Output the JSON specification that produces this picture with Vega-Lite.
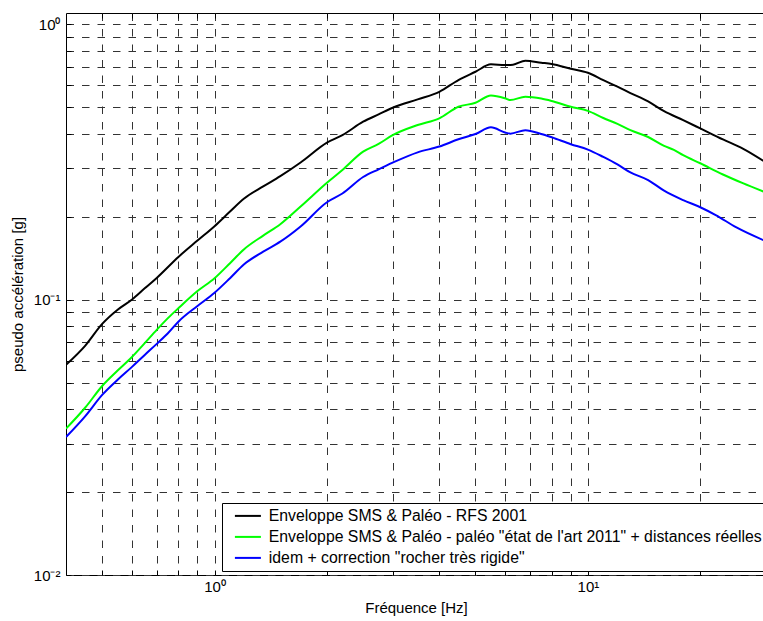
{
  "$schema": "https://vega.github.io/schema/vega-lite/v6.json",
  "width": 700,
  "height": 562,
  "autosize": "none",
  "padding": {"left": 66, "top": 13, "right": 0, "bottom": 46},
  "background": "white",
  "config": {
    "view": {"stroke": "black", "strokeWidth": 1},
    "font": "Liberation Sans",
    "axis": {
      "labelFont": "Liberation Sans",
      "titleFont": "Liberation Sans",
      "labelFontSize": 15,
      "titleFontSize": 15,
      "titleFontWeight": "normal",
      "labelColor": "black",
      "titleColor": "black",
      "domain": false,
      "tickColor": "black",
      "gridColor": "#333333",
      "gridOpacity": 1,
      "gridWidth": 1,
      "gridDash": [7.5, 8]
    },
    "legend": {"labelFont": "Liberation Sans", "labelFontSize": 15.8, "labelColor": "black"}
  },
  "data": {"values": [
    {"f":0.4,"a":0.058,"s":"Enveloppe SMS & Paléo - RFS 2001"},
    {"f":0.45,"a":0.068,"s":"Enveloppe SMS & Paléo - RFS 2001"},
    {"f":0.5,"a":0.0817,"s":"Enveloppe SMS & Paléo - RFS 2001"},
    {"f":0.55,"a":0.092,"s":"Enveloppe SMS & Paléo - RFS 2001"},
    {"f":0.6,"a":0.1,"s":"Enveloppe SMS & Paléo - RFS 2001"},
    {"f":0.65,"a":0.11,"s":"Enveloppe SMS & Paléo - RFS 2001"},
    {"f":0.7,"a":0.12,"s":"Enveloppe SMS & Paléo - RFS 2001"},
    {"f":0.8,"a":0.143,"s":"Enveloppe SMS & Paléo - RFS 2001"},
    {"f":0.9,"a":0.164,"s":"Enveloppe SMS & Paléo - RFS 2001"},
    {"f":1.0,"a":0.185,"s":"Enveloppe SMS & Paléo - RFS 2001"},
    {"f":1.1,"a":0.209,"s":"Enveloppe SMS & Paléo - RFS 2001"},
    {"f":1.2,"a":0.233,"s":"Enveloppe SMS & Paléo - RFS 2001"},
    {"f":1.35,"a":0.258,"s":"Enveloppe SMS & Paléo - RFS 2001"},
    {"f":1.5,"a":0.281,"s":"Enveloppe SMS & Paléo - RFS 2001"},
    {"f":1.7,"a":0.315,"s":"Enveloppe SMS & Paléo - RFS 2001"},
    {"f":2.0,"a":0.372,"s":"Enveloppe SMS & Paléo - RFS 2001"},
    {"f":2.2,"a":0.396,"s":"Enveloppe SMS & Paléo - RFS 2001"},
    {"f":2.5,"a":0.443,"s":"Enveloppe SMS & Paléo - RFS 2001"},
    {"f":2.75,"a":0.471,"s":"Enveloppe SMS & Paléo - RFS 2001"},
    {"f":3.0,"a":0.498,"s":"Enveloppe SMS & Paléo - RFS 2001"},
    {"f":3.5,"a":0.534,"s":"Enveloppe SMS & Paléo - RFS 2001"},
    {"f":4.0,"a":0.569,"s":"Enveloppe SMS & Paléo - RFS 2001"},
    {"f":4.5,"a":0.628,"s":"Enveloppe SMS & Paléo - RFS 2001"},
    {"f":5.0,"a":0.673,"s":"Enveloppe SMS & Paléo - RFS 2001"},
    {"f":5.5,"a":0.716,"s":"Enveloppe SMS & Paléo - RFS 2001"},
    {"f":6.0,"a":0.712,"s":"Enveloppe SMS & Paléo - RFS 2001"},
    {"f":6.3,"a":0.714,"s":"Enveloppe SMS & Paléo - RFS 2001"},
    {"f":6.8,"a":0.738,"s":"Enveloppe SMS & Paléo - RFS 2001"},
    {"f":7.5,"a":0.726,"s":"Enveloppe SMS & Paléo - RFS 2001"},
    {"f":8.0,"a":0.718,"s":"Enveloppe SMS & Paléo - RFS 2001"},
    {"f":9.0,"a":0.69,"s":"Enveloppe SMS & Paléo - RFS 2001"},
    {"f":10,"a":0.667,"s":"Enveloppe SMS & Paléo - RFS 2001"},
    {"f":11,"a":0.627,"s":"Enveloppe SMS & Paléo - RFS 2001"},
    {"f":12,"a":0.594,"s":"Enveloppe SMS & Paléo - RFS 2001"},
    {"f":13,"a":0.563,"s":"Enveloppe SMS & Paléo - RFS 2001"},
    {"f":14.5,"a":0.525,"s":"Enveloppe SMS & Paléo - RFS 2001"},
    {"f":16,"a":0.484,"s":"Enveloppe SMS & Paléo - RFS 2001"},
    {"f":18,"a":0.449,"s":"Enveloppe SMS & Paléo - RFS 2001"},
    {"f":20,"a":0.419,"s":"Enveloppe SMS & Paléo - RFS 2001"},
    {"f":23,"a":0.382,"s":"Enveloppe SMS & Paléo - RFS 2001"},
    {"f":26,"a":0.354,"s":"Enveloppe SMS & Paléo - RFS 2001"},
    {"f":30,"a":0.315,"s":"Enveloppe SMS & Paléo - RFS 2001"},

    {"f":0.4,"a":0.034,"s":"Enveloppe SMS & Paléo - paléo \"état de l'art 2011\" + distances réelles"},
    {"f":0.45,"a":0.0405,"s":"Enveloppe SMS & Paléo - paléo \"état de l'art 2011\" + distances réelles"},
    {"f":0.5,"a":0.0486,"s":"Enveloppe SMS & Paléo - paléo \"état de l'art 2011\" + distances réelles"},
    {"f":0.55,"a":0.0553,"s":"Enveloppe SMS & Paléo - paléo \"état de l'art 2011\" + distances réelles"},
    {"f":0.6,"a":0.0618,"s":"Enveloppe SMS & Paléo - paléo \"état de l'art 2011\" + distances réelles"},
    {"f":0.65,"a":0.0695,"s":"Enveloppe SMS & Paléo - paléo \"état de l'art 2011\" + distances réelles"},
    {"f":0.7,"a":0.0777,"s":"Enveloppe SMS & Paléo - paléo \"état de l'art 2011\" + distances réelles"},
    {"f":0.75,"a":0.0857,"s":"Enveloppe SMS & Paléo - paléo \"état de l'art 2011\" + distances réelles"},
    {"f":0.8,"a":0.0931,"s":"Enveloppe SMS & Paléo - paléo \"état de l'art 2011\" + distances réelles"},
    {"f":0.9,"a":0.1075,"s":"Enveloppe SMS & Paléo - paléo \"état de l'art 2011\" + distances réelles"},
    {"f":1.0,"a":0.1197,"s":"Enveloppe SMS & Paléo - paléo \"état de l'art 2011\" + distances réelles"},
    {"f":1.1,"a":0.1357,"s":"Enveloppe SMS & Paléo - paléo \"état de l'art 2011\" + distances réelles"},
    {"f":1.2,"a":0.1526,"s":"Enveloppe SMS & Paléo - paléo \"état de l'art 2011\" + distances réelles"},
    {"f":1.35,"a":0.171,"s":"Enveloppe SMS & Paléo - paléo \"état de l'art 2011\" + distances réelles"},
    {"f":1.5,"a":0.188,"s":"Enveloppe SMS & Paléo - paléo \"état de l'art 2011\" + distances réelles"},
    {"f":1.7,"a":0.218,"s":"Enveloppe SMS & Paléo - paléo \"état de l'art 2011\" + distances réelles"},
    {"f":2.0,"a":0.266,"s":"Enveloppe SMS & Paléo - paléo \"état de l'art 2011\" + distances réelles"},
    {"f":2.2,"a":0.296,"s":"Enveloppe SMS & Paléo - paléo \"état de l'art 2011\" + distances réelles"},
    {"f":2.5,"a":0.345,"s":"Enveloppe SMS & Paléo - paléo \"état de l'art 2011\" + distances réelles"},
    {"f":2.75,"a":0.368,"s":"Enveloppe SMS & Paléo - paléo \"état de l'art 2011\" + distances réelles"},
    {"f":3.0,"a":0.396,"s":"Enveloppe SMS & Paléo - paléo \"état de l'art 2011\" + distances réelles"},
    {"f":3.5,"a":0.431,"s":"Enveloppe SMS & Paléo - paléo \"état de l'art 2011\" + distances réelles"},
    {"f":4.0,"a":0.456,"s":"Enveloppe SMS & Paléo - paléo \"état de l'art 2011\" + distances réelles"},
    {"f":4.5,"a":0.502,"s":"Enveloppe SMS & Paléo - paléo \"état de l'art 2011\" + distances réelles"},
    {"f":5.0,"a":0.519,"s":"Enveloppe SMS & Paléo - paléo \"état de l'art 2011\" + distances réelles"},
    {"f":5.5,"a":0.552,"s":"Enveloppe SMS & Paléo - paléo \"état de l'art 2011\" + distances réelles"},
    {"f":6.0,"a":0.539,"s":"Enveloppe SMS & Paléo - paléo \"état de l'art 2011\" + distances réelles"},
    {"f":6.2,"a":0.531,"s":"Enveloppe SMS & Paléo - paléo \"état de l'art 2011\" + distances réelles"},
    {"f":6.8,"a":0.546,"s":"Enveloppe SMS & Paléo - paléo \"état de l'art 2011\" + distances réelles"},
    {"f":7.5,"a":0.538,"s":"Enveloppe SMS & Paléo - paléo \"état de l'art 2011\" + distances réelles"},
    {"f":8.0,"a":0.527,"s":"Enveloppe SMS & Paléo - paléo \"état de l'art 2011\" + distances réelles"},
    {"f":9.0,"a":0.502,"s":"Enveloppe SMS & Paléo - paléo \"état de l'art 2011\" + distances réelles"},
    {"f":10,"a":0.485,"s":"Enveloppe SMS & Paléo - paléo \"état de l'art 2011\" + distances réelles"},
    {"f":11,"a":0.457,"s":"Enveloppe SMS & Paléo - paléo \"état de l'art 2011\" + distances réelles"},
    {"f":12,"a":0.435,"s":"Enveloppe SMS & Paléo - paléo \"état de l'art 2011\" + distances réelles"},
    {"f":13,"a":0.413,"s":"Enveloppe SMS & Paléo - paléo \"état de l'art 2011\" + distances réelles"},
    {"f":14.5,"a":0.39,"s":"Enveloppe SMS & Paléo - paléo \"état de l'art 2011\" + distances réelles"},
    {"f":16,"a":0.362,"s":"Enveloppe SMS & Paléo - paléo \"état de l'art 2011\" + distances réelles"},
    {"f":17,"a":0.35,"s":"Enveloppe SMS & Paléo - paléo \"état de l'art 2011\" + distances réelles"},
    {"f":18,"a":0.335,"s":"Enveloppe SMS & Paléo - paléo \"état de l'art 2011\" + distances réelles"},
    {"f":20,"a":0.313,"s":"Enveloppe SMS & Paléo - paléo \"état de l'art 2011\" + distances réelles"},
    {"f":23,"a":0.285,"s":"Enveloppe SMS & Paléo - paléo \"état de l'art 2011\" + distances réelles"},
    {"f":26,"a":0.265,"s":"Enveloppe SMS & Paléo - paléo \"état de l'art 2011\" + distances réelles"},
    {"f":30,"a":0.245,"s":"Enveloppe SMS & Paléo - paléo \"état de l'art 2011\" + distances réelles"},

    {"f":0.4,"a":0.0317,"s":"idem + correction \"rocher très rigide\""},
    {"f":0.45,"a":0.0377,"s":"idem + correction \"rocher très rigide\""},
    {"f":0.5,"a":0.0451,"s":"idem + correction \"rocher très rigide\""},
    {"f":0.55,"a":0.0512,"s":"idem + correction \"rocher très rigide\""},
    {"f":0.6,"a":0.0569,"s":"idem + correction \"rocher très rigide\""},
    {"f":0.65,"a":0.063,"s":"idem + correction \"rocher très rigide\""},
    {"f":0.7,"a":0.0691,"s":"idem + correction \"rocher très rigide\""},
    {"f":0.75,"a":0.0755,"s":"idem + correction \"rocher très rigide\""},
    {"f":0.8,"a":0.0832,"s":"idem + correction \"rocher très rigide\""},
    {"f":0.9,"a":0.0949,"s":"idem + correction \"rocher très rigide\""},
    {"f":1.0,"a":0.106,"s":"idem + correction \"rocher très rigide\""},
    {"f":1.1,"a":0.1197,"s":"idem + correction \"rocher très rigide\""},
    {"f":1.2,"a":0.1345,"s":"idem + correction \"rocher très rigide\""},
    {"f":1.35,"a":0.1495,"s":"idem + correction \"rocher très rigide\""},
    {"f":1.5,"a":0.1625,"s":"idem + correction \"rocher très rigide\""},
    {"f":1.7,"a":0.1845,"s":"idem + correction \"rocher très rigide\""},
    {"f":2.0,"a":0.226,"s":"idem + correction \"rocher très rigide\""},
    {"f":2.2,"a":0.243,"s":"idem + correction \"rocher très rigide\""},
    {"f":2.5,"a":0.279,"s":"idem + correction \"rocher très rigide\""},
    {"f":2.75,"a":0.2976,"s":"idem + correction \"rocher très rigide\""},
    {"f":3.0,"a":0.3146,"s":"idem + correction \"rocher très rigide\""},
    {"f":3.5,"a":0.343,"s":"idem + correction \"rocher très rigide\""},
    {"f":4.0,"a":0.36,"s":"idem + correction \"rocher très rigide\""},
    {"f":4.5,"a":0.3825,"s":"idem + correction \"rocher très rigide\""},
    {"f":5.0,"a":0.4,"s":"idem + correction \"rocher très rigide\""},
    {"f":5.5,"a":0.423,"s":"idem + correction \"rocher très rigide\""},
    {"f":6.0,"a":0.405,"s":"idem + correction \"rocher très rigide\""},
    {"f":6.2,"a":0.401,"s":"idem + correction \"rocher très rigide\""},
    {"f":6.8,"a":0.413,"s":"idem + correction \"rocher très rigide\""},
    {"f":7.5,"a":0.4,"s":"idem + correction \"rocher très rigide\""},
    {"f":8.0,"a":0.389,"s":"idem + correction \"rocher très rigide\""},
    {"f":9.0,"a":0.367,"s":"idem + correction \"rocher très rigide\""},
    {"f":10,"a":0.351,"s":"idem + correction \"rocher très rigide\""},
    {"f":11,"a":0.33,"s":"idem + correction \"rocher très rigide\""},
    {"f":12,"a":0.31,"s":"idem + correction \"rocher très rigide\""},
    {"f":13,"a":0.29,"s":"idem + correction \"rocher très rigide\""},
    {"f":14.5,"a":0.272,"s":"idem + correction \"rocher très rigide\""},
    {"f":16,"a":0.249,"s":"idem + correction \"rocher très rigide\""},
    {"f":18,"a":0.23,"s":"idem + correction \"rocher très rigide\""},
    {"f":20,"a":0.2167,"s":"idem + correction \"rocher très rigide\""},
    {"f":22,"a":0.203,"s":"idem + correction \"rocher très rigide\""},
    {"f":25,"a":0.183,"s":"idem + correction \"rocher très rigide\""},
    {"f":30,"a":0.163,"s":"idem + correction \"rocher très rigide\""}
  ]},
  "layer": [
    {
      "mark": {"type": "line", "strokeWidth": 2, "clip": true, "interpolate": "monotone"},
      "encoding": {
        "x": {
          "field": "f", "type": "quantitative",
          "scale": {"type": "log", "domain": [0.4, 30], "nice": false},
          "axis": {
            "title": "Fréquence [Hz]",
            "values": [0.5,0.6,0.7,0.8,0.9,1,2,3,4,5,6,7,8,9,10,20],
            "labelExpr": "abs(datum.value-1)<1e-9 ? '10⁰' : abs(datum.value-10)<1e-9 ? '10¹' : ''",
            "tickSize": -5,
            "labelPadding": 9,
            "titlePadding": 6,
            "labelOverlap": false,
            "labelFlush": false
          }
        },
        "y": {
          "field": "a", "type": "quantitative",
          "scale": {"type": "log", "domain": [0.01, 1.1], "nice": false},
          "axis": {
            "title": "pseudo accélération [g]",
            "values": [0.01,0.02,0.03,0.04,0.05,0.06,0.07,0.08,0.09,0.1,0.2,0.3,0.4,0.5,0.6,0.7,0.8,0.9,1],
            "labelExpr": "abs(datum.value-1)<1e-9 ? '10⁰' : abs(datum.value-0.1)<1e-9 ? '10⁻¹' : abs(datum.value-0.01)<1e-9 ? '10⁻²' : ''",
            "tickSize": -5,
            "labelPadding": 11,
            "titlePadding": 8,
            "labelOverlap": false,
            "labelFlush": false
          }
        },
        "color": {
          "field": "s", "type": "nominal",
          "scale": {
            "domain": [
              "Enveloppe SMS & Paléo - RFS 2001",
              "Enveloppe SMS & Paléo - paléo \"état de l'art 2011\" + distances réelles",
              "idem + correction \"rocher très rigide\""
            ],
            "range": ["#000000", "#00ff00", "#0000ff"]
          },
          "legend": {
            "title": null,
            "orient": "none",
            "legendX": 156,
            "legendY": 490,
            "direction": "vertical",
            "symbolType": "M-2,0H2",
            "symbolSize": 169,
            "symbolStrokeWidth": 2,
            "symbolOffset": 13,
            "labelLimit": 1000,
            "labelOffset": 13,
            "rowPadding": 4,
            "padding": 5,
            "strokeColor": "black",
            "fillColor": "white",
            "cornerRadius": 0
          }
        },
        "order": {"field": "f", "type": "quantitative"}
      }
    },
    {
      "mark": {"type": "line", "strokeOpacity": 0},
      "encoding": {
        "x": {
          "field": "f", "type": "quantitative",
          "scale": {"type": "log", "domain": [0.4, 30], "nice": false},
          "axis": {
            "orient": "top",
            "title": null,
            "labels": false,
            "grid": false,
            "values": [0.5,0.6,0.7,0.8,0.9,1,2,3,4,5,6,7,8,9,10,20],
            "tickSize": -5
          }
        },
        "y": {
          "field": "a", "type": "quantitative",
          "scale": {"type": "log", "domain": [0.01, 1.1], "nice": false},
          "axis": null
        },
        "detail": {"field": "s", "type": "nominal"}
      }
    }
  ],
  "resolve": {"axis": {"x": "independent", "y": "independent"}}
}
